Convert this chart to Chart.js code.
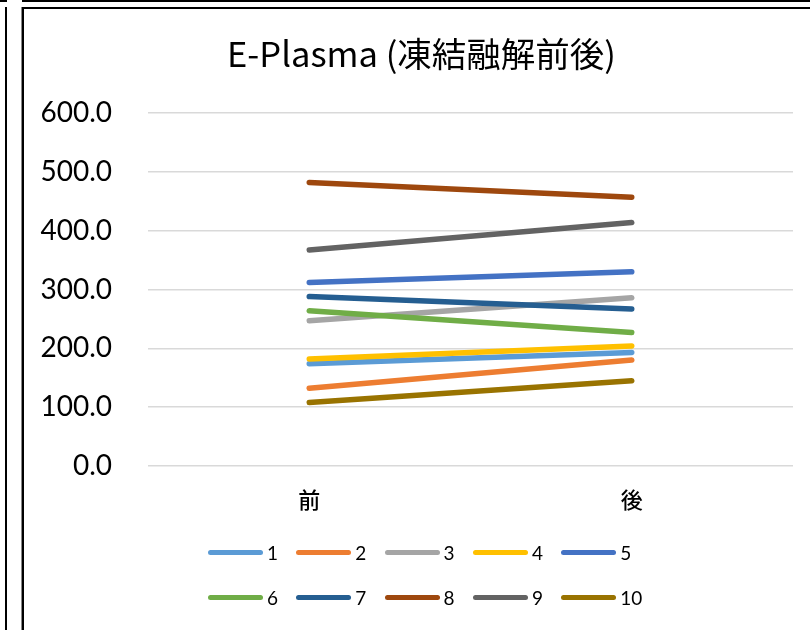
<!DOCTYPE html>
<html>
<head>
<meta charset="utf-8">
<script src="https://cdn.jsdelivr.net/npm/chart.js@4"></script>
<style>
  html, body { margin: 0; padding: 0; background: #fff; }
  #wrap { position: relative; width: 810px; height: 630px; overflow: hidden; background: #fff; }
  #c { position: absolute; left: 0; top: 0; }
  .rule { position: absolute; background: #000; }
  #legend {
    position: absolute; left: 208px; top: 536px;
    display: grid; grid-template-columns: repeat(5, 88.3px); grid-auto-rows: 45px;
    font-family: Lato, "Noto Sans", sans-serif; font-size: 19px; color: #000;
  }
  .item { display: flex; align-items: center; height: 32px; }
  .swatch { width: 55px; height: 5px; border-radius: 3px; margin-right: 4px; }
</style>
</head>
<body>
<div id="wrap">
  <canvas id="c" width="810" height="630"></canvas>
  <!-- neighbouring sheet frames -->
  <div class="rule" style="left:0;top:0;width:7px;height:2px"></div>
  <div class="rule" style="left:22px;top:0;width:788px;height:2px"></div>
  <div class="rule" style="left:5px;top:7px;width:2px;height:623px"></div>
  <!-- chart frame -->
  <div class="rule" style="left:22px;top:7px;width:788px;height:2px"></div>
  <div class="rule" style="left:21px;top:7px;width:1px;height:623px;background:#888"></div>
  <div class="rule" style="left:22px;top:7px;width:1.5px;height:623px"></div>
  <div id="legend"></div>
</div>
<script>
// categories (x axis)
const categories = ['前', '後'];
// sample names
const seriesNames = ['1', '2', '3', '4', '5', '6', '7', '8', '9', '10'];
// values before / after freeze-thaw
const s1 = [174, 193];
const s2 = [132, 180];
const s3 = [247, 286];
const s4 = [182, 204];
const s5 = [312, 330];
const s6 = [264, 227];
const s7 = [288, 267];
const s8 = [482, 457];
const s9 = [367, 414];
const s10 = [108, 145];
const seriesValues = [s1, s2, s3, s4, s5, s6, s7, s8, s9, s10];
// y axis ticks
const yTicks = [0, 100, 200, 300, 400, 500, 600];

const colors = ['#5B9BD5', '#ED7D31', '#A5A5A5', '#FFC000', '#4472C4',
                '#70AD47', '#255E91', '#9E480E', '#636363', '#997300'];

const latin = 'Lato, "Noto Sans CJK JP", sans-serif';
const cjk = '"Noto Sans CJK JP", sans-serif';

const datasets = seriesNames.map((name, i) => ({
  label: name,
  data: seriesValues[i],
  borderColor: colors[i],
  backgroundColor: colors[i],
  borderWidth: 5.5,
  borderCapStyle: 'round',
  borderJoinStyle: 'round',
  pointRadius: 0,
  pointHoverRadius: 0,
  tension: 0,
  order: seriesNames.length - i
}));

const chart = new Chart(document.getElementById('c'), {
  type: 'line',
  data: { labels: categories, datasets },
  options: {
    responsive: false,
    animation: false,
    events: [],
    layout: { padding: { left: 50, right: 17, top: 0, bottom: 114 } },
    plugins: {
      legend: { display: false },
      tooltip: { enabled: false },
      title: {
        display: true,
        text: 'E-Plasma (凍結融解前後)',
        color: '#000',
        font: { family: cjk, size: 34.5, weight: 'normal', lineHeight: 1.2 },
        padding: { top: 33, bottom: 38.6 }
      }
    },
    scales: {
      x: {
        offset: true,
        grid: { display: false, drawTicks: false },
        border: { display: false },
        ticks: {
          color: '#000',
          padding: 20,
          font: { family: cjk, size: 22, weight: '500' }
        },
        afterFit(scale) { scale.height = 50; }
      },
      y: {
        min: yTicks[0],
        max: yTicks[yTicks.length - 1],
        afterBuildTicks(scale) { scale.ticks = yTicks.map(v => ({ value: v })); },
        grid: { color: '#d9d9d9', lineWidth: 1.5, drawTicks: false },
        border: { display: false },
        ticks: {
          color: '#000',
          padding: 36,
          font: { family: latin, size: 28 },
          callback: v => Number(v).toFixed(1)
        },
        afterFit(scale) {
          scale.width = 98;
          // tick labels may extend past the narrow axis box
          scale._computeLabelArea = () => undefined;
        }
      }
    }
  }
});

// legend in a 5-column grid, built from the chart's datasets
const legendEl = document.getElementById('legend');
chart.data.datasets.forEach(ds => {
  const item = document.createElement('div');
  item.className = 'item';
  const sw = document.createElement('span');
  sw.className = 'swatch';
  sw.style.background = ds.borderColor;
  const tx = document.createElement('span');
  tx.textContent = ds.label;
  item.appendChild(sw);
  item.appendChild(tx);
  legendEl.appendChild(item);
});
</script>
</body>
</html>
